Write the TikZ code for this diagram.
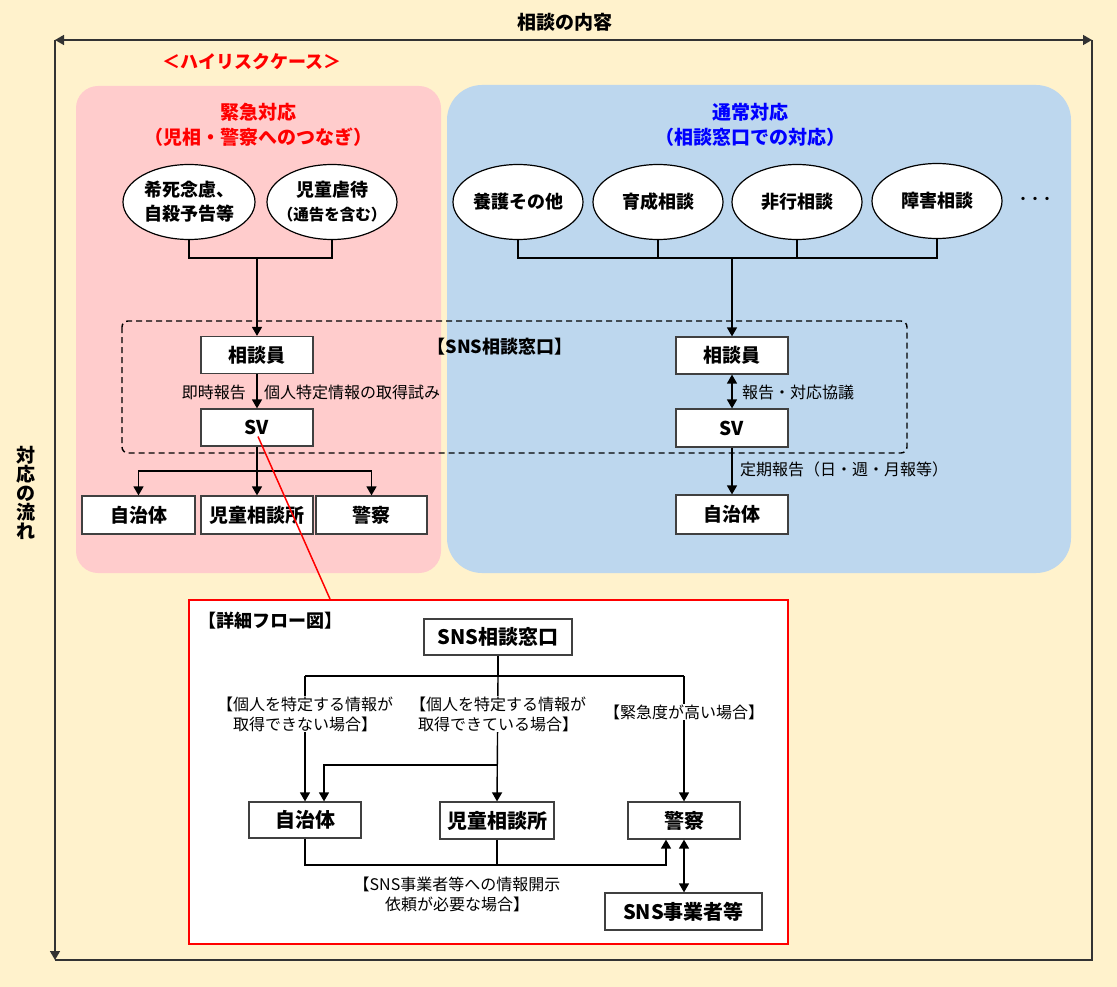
\documentclass[tikz,border=0pt]{standalone}
\usepackage{fontspec}
\setmainfont{Noto Sans CJK JP}
\usetikzlibrary{arrows.meta,shapes.geometric,calc}
\definecolor{bgY}{HTML}{FFF2CC}
\definecolor{pinkF}{HTML}{FFCCCC}
\definecolor{blueF}{HTML}{BDD7EE}
\definecolor{boxL}{HTML}{404040}
\definecolor{frameL}{HTML}{333333}
\definecolor{txtBlue}{HTML}{0000FF}
\newcommand\fz[2]{\fontsize{#1}{#2}\selectfont}
\begin{document}
\begin{tikzpicture}[x=1pt,y=-1pt,
  box/.style={draw=boxL, line width=1.2pt, fill=white, minimum width=112pt, minimum height=37pt, inner sep=0pt, font=\fz{19}{23}\bfseries},
  dbox/.style={box, font=\fz{20}{24}\bfseries, minimum height=36pt},
  ell/.style={draw=black, line width=1.2pt, fill=white, ellipse, minimum width=130pt, minimum height=75pt, inner sep=0pt, align=center, font=\fz{18}{24}\bfseries},
  lbl/.style={font=\fz{16}{20}, inner sep=1pt, align=center},
  conn/.style={draw=black, line width=1.4pt},
  arr/.style={conn, -{Triangle[length=9pt,width=10pt]}},
  darr/.style={conn, {Triangle[length=9pt,width=10pt]}-{Triangle[length=9pt,width=10pt]}},
  frame/.style={draw=frameL, line width=1.5pt},
]
\useasboundingbox (0,0) rectangle (1117,987);
\fill[bgY] (0,0) rectangle (1117,987);

% axes / frame
\coordinate (TL) at (55,40);
\coordinate (TR) at (1092,40);
\coordinate (BL) at (55,960);
\coordinate (BR) at (1092,960);
\draw[frame, {Triangle[length=9pt,width=10pt]}-{Triangle[length=9pt,width=10pt]}] (TL) -- (TR);
\draw[frame] (TR) -- (BR) -- (BL);
\draw[frame, -{Triangle[length=9pt,width=10pt]}] (TL) -- (BL);
\node[font=\fz{19}{23}\bfseries] (ttl) at (565,22) {相談の内容};
\node[font=\fz{19}{19}\bfseries, align=center, inner sep=0pt] (flow) at (26,493) {対\\応\\の\\流\\れ};

\node[font=\fz{18}{22}\bfseries, text=red] (hr) at (252,62) {＜ハイリスクケース＞};

% regions
\fill[pinkF, rounded corners=22pt] (76,86) rectangle (441,573);
\fill[blueF, rounded corners=35pt] (447,85) rectangle (1071,573);
\node[font=\fz{19}{25}\bfseries, text=red, align=center] (pt) at (258,124.5) {緊急対応\\（児相・警察へのつなぎ）};
\node[font=\fz{19}{25}\bfseries, text=txtBlue, align=center] (bt) at (750,124.5) {通常対応\\（相談窓口での対応）};

% ellipses
\node[ell, minimum width=132pt] (e1) at (189,202) {希死念慮、\\自殺予告等};
\node[ell, inner xsep=-14pt] (e2) at (332,202) {児童虐待\\{\fz{15.5}{18}\bfseries（通告を含む）}};
\node[ell] (b1) at (518,202) {養護その他};
\node[ell] (b2) at (658,202) {育成相談};
\node[ell] (b3) at (797,202) {非行相談};
\node[ell] (b4) at (937,201) {障害相談};
\node[font=\fz{12}{14}\bfseries] (dots) at (1035,200) {・・・};

% SNS window
\draw[black, line width=1.4pt, dash pattern=on 6pt off 4pt, rounded corners=6pt] (122,321) rectangle (907,453);
\node[font=\fz{18}{22}\bfseries] (snsw) at (500,347) {【SNS相談窓口】};

% pink flow
\node[box] (sp) at (257,355) {相談員};
\node[box] (sv) at (257,427.5) {SV};
\node[box, minimum width=113pt, minimum height=38pt] (pa) at (138.5,515) {自治体};
\node[box, minimum height=38pt] (pb) at (257,515) {児童相談所};
\node[box, minimum width=111pt, minimum height=38pt] (pc) at (371.5,515) {警察};
\coordinate (j1) at (257,258);
\draw[conn] (e1.south) |- (j1) -| (e2.south);
\draw[arr] (j1) -- (sp.north);
\draw[arr] (sp.south) -- (sv.north);
\node[lbl, anchor=east] (l1) at (247,392) {即時報告};
\node[lbl, anchor=west] (l2) at (263,392) {個人特定情報の取得試み};
\coordinate (j3) at (257,471);
\draw[conn] (sv.south) -- (j3);
\draw[arr] (j3) -| (pa.north);
\draw[arr] (j3) -| (pc.north);
\draw[arr] (j3) -- (pb.north);

% blue flow
\node[box] (sb) at (732,355.5) {相談員};
\node[box, minimum height=38pt] (svb) at (732,428) {SV};
\node[box, minimum height=39pt] (bz) at (732,514.5) {自治体};
\coordinate (j2) at (732,258);
\draw[conn] (b1.south) |- (b4.south |- j2) -- (b4.south);
\draw[conn] (b2.south) -- (b2.south |- j2);
\draw[conn] (b3.south) -- (b3.south |- j2);
\draw[arr] (j2) -- (sb.north);
\draw[darr] (sb.south) -- (svb.north);
\node[lbl, anchor=west] (l3) at (741,392) {報告・対応協議};
\draw[arr] (svb.south) -- (bz.north);
\node[lbl, anchor=west] (l4) at (739,469) {定期報告（日・週・月報等）};

% detail box
\node[draw=red, line width=2pt, fill=white, minimum width=599pt, minimum height=344pt, inner sep=0pt] (det) at (488.5,772) {};
\coordinate (svr) at ($(sv.center)+(1,9)$);
\coordinate (detr) at ($(det.north west)+(142,0)$);
\draw[red, line width=1.5pt] (svr) -- (detr);
\node[font=\fz{18}{22}\bfseries, anchor=west, inner sep=0pt] (dtl) at (198,621) {【詳細フロー図】};

\node[dbox, minimum width=148pt] (dw) at (498,637) {SNS相談窓口};
\node[dbox] (dz) at (305,820) {自治体};
\node[dbox, minimum width=114pt, minimum height=37pt] (db) at (497,820.5) {児童相談所};
\node[dbox, minimum height=37pt] (dk) at (684,820.5) {警察};
\node[dbox, minimum width=157pt, minimum height=37pt] (ds) at (683.5,911.5) {SNS事業者等};

\coordinate (k0) at (498,676);
\coordinate (kl) at (305,676);
\coordinate (kr) at (684,676);
\draw[conn] (dw.south) -- (k0);
\draw[conn] (kl) -- (kr);
\draw[arr] (kl) -- (dz.north);
\draw[arr] (k0) -- (db.north);
\draw[arr] (kr) -- (dk.north);
\coordinate (km) at (497,765);
\draw[arr] (km) -| ($(dz.north)+(19,0)$);
\node[lbl, fill=white] (dl1) at (305,714) {【個人を特定する情報が\\取得できない場合】};
\node[lbl, fill=white] (dl2) at (498,714) {【個人を特定する情報が\\取得できている場合】};
\node[lbl, fill=white] (dl3) at (684,712) {【緊急度が高い場合】};

\coordinate (kb) at (305,865);
\draw[arr] (dz.south) |- ($(dk.south |- kb)+(-18,0)$) -- ($(dk.south)+(-18,0)$);
\draw[conn] (db.south) -- (db.south |- kb);
\draw[darr] (dk.south) -- (dk.south |- ds.north);
\node[lbl] (dl4) at (457,894) {【SNS事業者等への情報開示\\依頼が必要な場合】};
\end{tikzpicture}
\end{document}
